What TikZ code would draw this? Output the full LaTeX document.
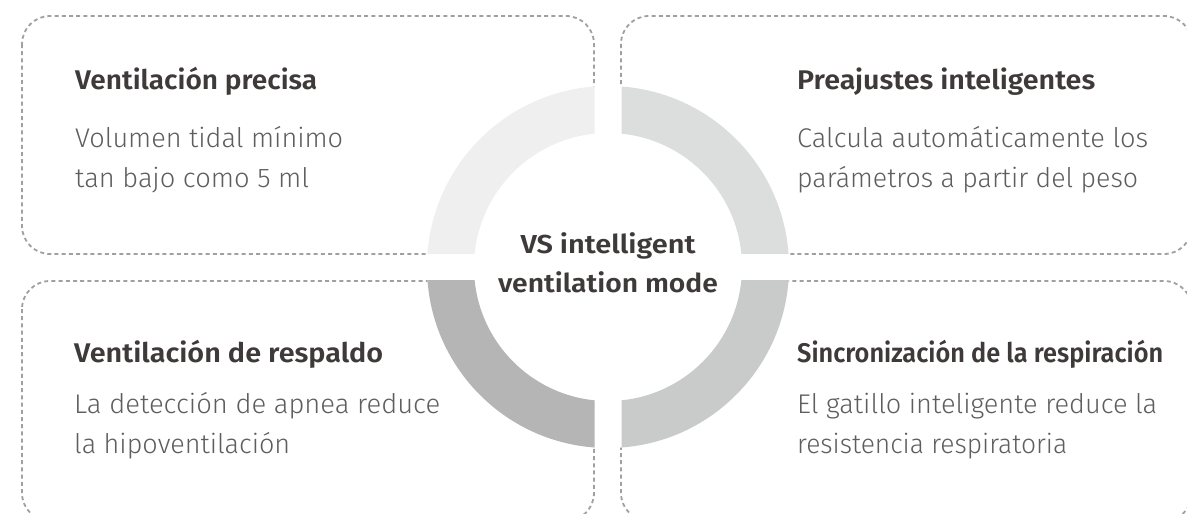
\documentclass[tikz,border=0pt]{standalone}
\usepackage{graphicx}
\usepackage{fontspec}
\setmainfont{Fira Sans}
\IfFontExistsTF{Fira Sans Light}{\newfontfamily\bodyfont{Fira Sans Light}}{\newfontfamily\bodyfont{Fira Sans}}
\IfFontExistsTF{Fira Sans SemiBold}{\newfontfamily\headfont{Fira Sans SemiBold}}{\newfontfamily\headfontbase{Fira Sans}\def\headfont{\headfontbase\bfseries}}
\definecolor{ringA}{HTML}{EFEFEF}
\definecolor{ringB}{HTML}{DCDDDD}
\definecolor{ringC}{HTML}{B5B5B6}
\definecolor{ringD}{HTML}{C9CACA}
\definecolor{dashcol}{HTML}{A0A0A0}
\definecolor{headcol}{HTML}{3E3A39}
\definecolor{bodycol}{HTML}{5F5D5D}
\newcommand\fitto[2]{\resizebox{#1pt}{\height}{#2}}
\tikzset{
  card/.style={draw=dashcol, line width=1.8pt, dash pattern=on 4pt off 3.2pt, rounded corners=28pt},
  headtxt/.style={inner sep=0pt, anchor=base west, text=headcol, font=\headfont\fontsize{27}{32}\selectfont},
  bodytxt/.style={inner sep=0pt, anchor=base west, text=bodycol, font=\bodyfont\fontsize{27}{32}\selectfont},
  centertxt/.style={inner sep=0pt, anchor=base, text=headcol, font=\headfont\fontsize{26}{32}\selectfont},
}
\begin{document}
\begin{tikzpicture}[x=1pt,y=-1pt]
\useasboundingbox (0,0) rectangle (1187,514);
\clip (0,0) rectangle (1187,514);
\fill[white] (0,0) rectangle (1187,514);
% dashed cards
\draw[card] (22,16) rectangle (594,254);
\draw[card] (621,16) rectangle (1192,254);
\draw[card] (22,281) rectangle (594,521);
\draw[card] (621,281) rectangle (1192,521);
% ring
\coordinate (c) at (608,267);
\fill[white] (c) circle (181pt);
\begin{scope}
  \clip (594.5,253.5) rectangle (400,60);
  \fill[ringA, even odd rule] (c) circle (181pt) (c) circle (134pt);
\end{scope}
\begin{scope}
  \clip (621.5,253.5) rectangle (820,60);
  \fill[ringB, even odd rule] (c) circle (181pt) (c) circle (134pt);
\end{scope}
\begin{scope}
  \clip (594.5,280.5) rectangle (400,470);
  \fill[ringC, even odd rule] (c) circle (181pt) (c) circle (134pt);
\end{scope}
\begin{scope}
  \clip (621.5,280.5) rectangle (820,470);
  \fill[ringD, even odd rule] (c) circle (181pt) (c) circle (134pt);
\end{scope}
% centre text
\node[centertxt] (cta) at (608,253) {\fitto{175}{VS intelligent}};
\node[centertxt] (ctb) at (608,292) {\fitto{220}{ventilation mode}};
% top-left
\node[headtxt] (h1) at (75,89) {\fitto{242}{Ventilación precisa}};
\node[bodytxt] (b1a) at (75,147) {\fitto{268}{Volumen tidal mínimo}};
\node[bodytxt] (b1b) at (75,187) {\fitto{234}{tan bajo como 5 ml}};
% top-right
\node[headtxt] (h2) at (797,89) {\fitto{298}{Preajustes inteligentes}};
\node[bodytxt] (b2a) at (797,147) {\fitto{351}{Calcula automáticamente los}};
\node[bodytxt] (b2b) at (797,187) {\fitto{341}{parámetros a partir del peso}};
% bottom-left
\node[headtxt] (h3) at (74,362) {\fitto{309}{Ventilación de respaldo}};
\node[bodytxt] (b3a) at (74,413) {\fitto{366}{La detección de apnea reduce}};
\node[bodytxt] (b3b) at (74,453) {\fitto{216}{la hipoventilación}};
% bottom-right
\node[headtxt] (h4) at (797,362) {\fitto{366}{Sincronización de la respiración}};
\node[bodytxt] (b4a) at (797,413) {\fitto{360}{El gatillo inteligente reduce la}};
\node[bodytxt] (b4b) at (797,453) {\fitto{270}{resistencia respiratoria}};
\end{tikzpicture}
\end{document}
